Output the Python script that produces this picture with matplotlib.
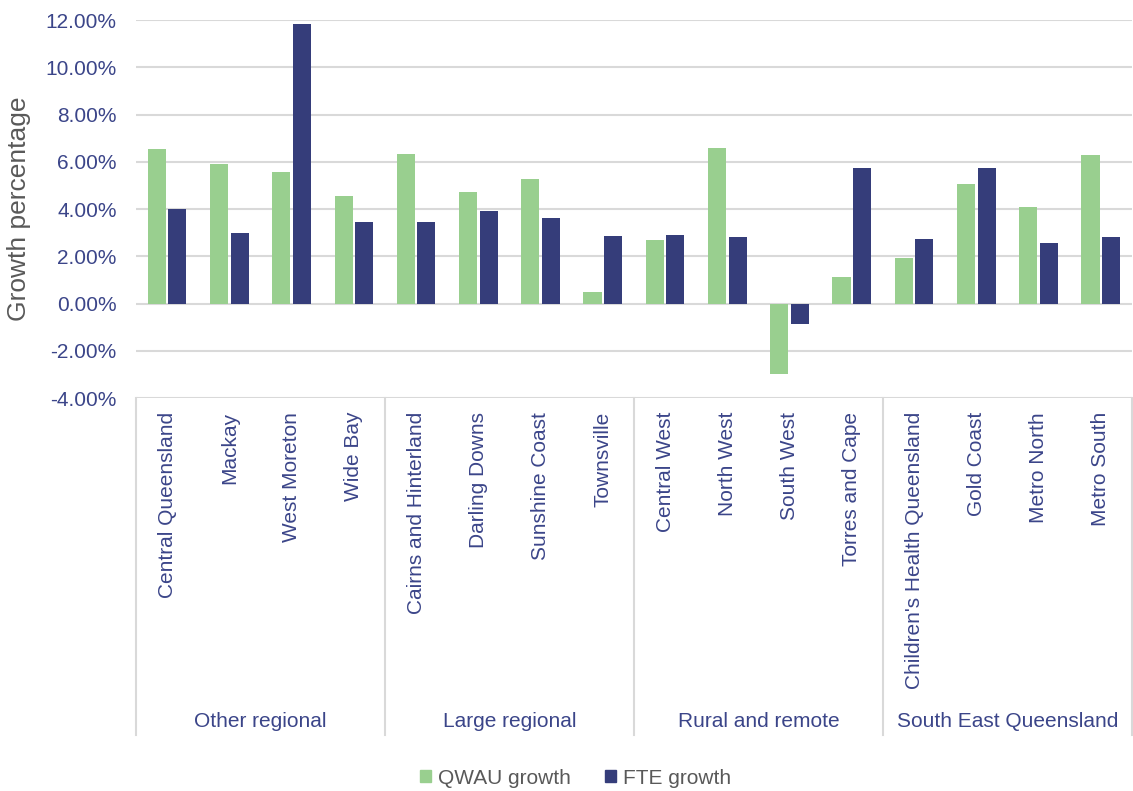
import numpy as np
import matplotlib
matplotlib.use("Agg")
import matplotlib.pyplot as plt
from matplotlib.ticker import PercentFormatter
from matplotlib.patches import Patch

plt.rcParams['font.family'] = ['Liberation Sans', 'DejaVu Sans']
plt.rcParams['axes.unicode_minus'] = False

# data (percent)
regions = ['Central Queensland', 'Mackay', 'West Moreton', 'Wide Bay',
           'Cairns and Hinterland', 'Darling Downs', 'Sunshine Coast', 'Townsville',
           'Central West', 'North West', 'South West', 'Torres and Cape',
           "Children's Health Queensland", 'Gold Coast', 'Metro North', 'Metro South']
groups = ['Other regional', 'Large regional', 'Rural and remote', 'South East Queensland']
group_sizes = [4, 4, 4, 4]
qwau_growth = [6.53, 5.89, 5.55, 4.57, 6.35, 4.72, 5.25, 0.50,
               2.67, 6.57, -3.00, 1.14, 1.92, 5.04, 4.07, 6.27]
fte_growth = [3.98, 3.00, 11.85, 3.44, 3.43, 3.93, 3.60, 2.84,
              2.88, 2.80, -0.85, 5.72, 2.72, 5.72, 2.56, 2.80]

green = '#99cf8f'
navy = '#353d7a'
label_col = '#3b4589'
grey = '#595959'

fig = plt.figure(figsize=(11.33, 7.91), dpi=100)
ax = fig.add_axes([0.120, 0.4968, 0.879, 0.4779])

x = np.arange(len(regions))
w = 0.29
ax.bar(x - 0.165, qwau_growth, w, color=green, zorder=3)
ax.bar(x + 0.165, fte_growth, w, color=navy, zorder=3)

ax.set_ylim(-4, 12)
ax.set_xlim(-0.5, len(regions) - 0.5)
ax.set_yticks(np.arange(-4, 12.1, 2))
ax.yaxis.set_major_formatter(PercentFormatter(decimals=2))
ax.grid(axis='y', color='#d9d9d9', lw=1.5, zorder=0)
for s in ax.spines.values():
    s.set_visible(False)

ax.tick_params(axis='y', length=0, pad=14, labelsize=15, labelcolor=label_col)
ax.set_xticks(x)
ax.set_xticklabels(regions, rotation=90, ha='center', va='top')
ax.tick_params(axis='x', length=0, pad=10, labelsize=15, labelcolor=label_col)

ax.set_ylabel('Growth percentage', fontsize=19, color=grey, labelpad=10)

# category axis separators and group labels
trans = ax.get_xaxis_transform()
edges = np.concatenate([[0], np.cumsum(group_sizes)]) - 0.5
for e in edges:
    ax.plot([e, e], [0, -0.892], transform=trans, color='#d9d9d9', lw=1.5,
            clip_on=False)
for i, g in enumerate(groups):
    mid = (edges[i] + edges[i + 1]) / 2
    ax.text(mid, -0.857, g, transform=trans, ha='center', va='center',
            fontsize=15, color=label_col)

handles = [Patch(color=green, label='QWAU growth'),
           Patch(color=navy, label='FTE growth')]
fig.legend(handles=handles, loc='center', bbox_to_anchor=(0.508, 0.0164),
           ncol=2, frameon=False, fontsize=15, labelcolor=grey,
           handlelength=0.55, handleheight=0.55, handletextpad=0.35,
           columnspacing=1.6)

fig.savefig('out.png', dpi=100)
